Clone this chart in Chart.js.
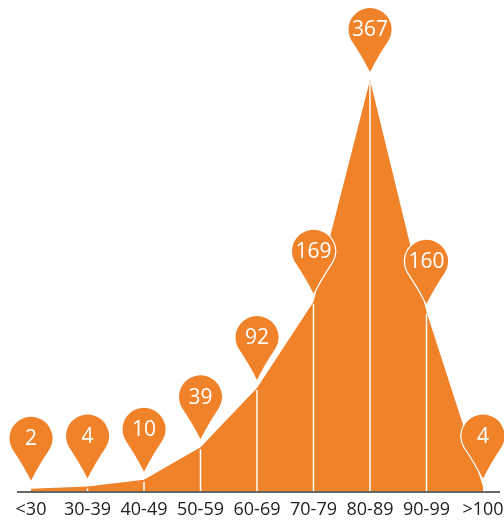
<!DOCTYPE html>
<html>
<head>
<meta charset="utf-8">
<script src="https://cdn.jsdelivr.net/npm/chart.js@4/dist/chart.umd.min.js"></script>
<style>
    html,body{margin:0;padding:0;background:#fff;}
    #wrap{width:504px;height:520px;position:relative;}
</style>
</head>
<body>
<div id="wrap"><canvas id="grafico"></canvas></div>
<script>
const categorias=["<30","30-39","40-49","50-59","60-69","70-79","80-89","90-99",">100"];
const valores=[2,4,10,39,92,169,367,160,4];

const laranja="#F0822A";

///////////////////////////////////////////////////////////////

// linhas brancas, linha da base e os marcadores em forma de pino
const pinos={
    id:"pinos",
    afterDatasetsDraw(chart){
        const ctx=chart.ctx;
        const area=chart.chartArea;
        const pontos=chart.getDatasetMeta(0).data;

        ctx.save();

        // base
        ctx.strokeStyle="#333";
        ctx.lineWidth=1.5;
        ctx.beginPath();
        ctx.moveTo(17,area.bottom+1);
        ctx.lineTo(500,area.bottom+1);
        ctx.stroke();

        // verticais
        ctx.strokeStyle="#fff";
        ctx.lineWidth=1.5;
        for(let i=1;i<pontos.length-1;i++){
            const p=pontos[i];
            ctx.beginPath();
            ctx.moveTo(p.x,p.y+2);
            ctx.lineTo(p.x,area.bottom);
            ctx.stroke();
        }

        // pinos
        const r=21.5;
        const altura=64;
        pontos.forEach((p,i)=>{
            const ponta=p.y-8;
            const cy=ponta-(altura-r);
            const phi=Math.acos(r/(altura-r));
            const a1=Math.PI/2+phi;
            const a2=Math.PI/2-phi;

            ctx.beginPath();
            ctx.arc(p.x,cy,r,a1,a2);
            // lados levemente côncavos
            const x2=p.x+r*Math.cos(a2), y2=cy+r*Math.sin(a2);
            const x1=p.x+r*Math.cos(a1), y1=cy+r*Math.sin(a1);
            ctx.quadraticCurveTo((x2+p.x)/2-2,(y2+ponta)/2+1,p.x,ponta);
            ctx.quadraticCurveTo((x1+p.x)/2+2,(y1+ponta)/2+1,x1,y1);
            ctx.closePath();
            ctx.fillStyle=laranja;
            ctx.strokeStyle="#fff";
            ctx.lineWidth=2.5;
            ctx.stroke();
            ctx.fill();

            ctx.fillStyle="#fff";
            ctx.font="21px 'Open Sans'";
            ctx.textAlign="center";
            ctx.textBaseline="middle";
            ctx.fillText(String(valores[i]),p.x,cy+1);
        });

        ctx.restore();
    }
};

///////////////////////////////////////////////////////////////

new Chart(document.getElementById("grafico").getContext("2d"),{
    type:"line",
    data:{
        labels:categorias,
        datasets:[{
            data:valores,
            fill:"origin",
            backgroundColor:laranja,
            borderWidth:0,
            pointRadius:0,
            tension:0
        }]
    },
    options:{
        responsive:true,
        maintainAspectRatio:false,
        animation:false,
        layout:{
            padding:{top:80,left:31,right:21,bottom:0}
        },
        plugins:{
            legend:{display:false},
            tooltip:{enabled:false}
        },
        scales:{
            x:{
                offset:false,
                grid:{display:false,drawTicks:false},
                border:{display:false},
                ticks:{
                    color:"#222",
                    font:{family:"'Open Sans'",size:18},
                    padding:8,
                    maxRotation:0,
                    autoSkip:false
                },
                afterFit(s){
                    s.paddingLeft=0;
                    s.paddingRight=0;
                    s.height=29;
                }
            },
            y:{
                display:false,
                min:0,
                max:367
            }
        }
    },
    plugins:[pinos]
});
</script>
</body>
</html>
